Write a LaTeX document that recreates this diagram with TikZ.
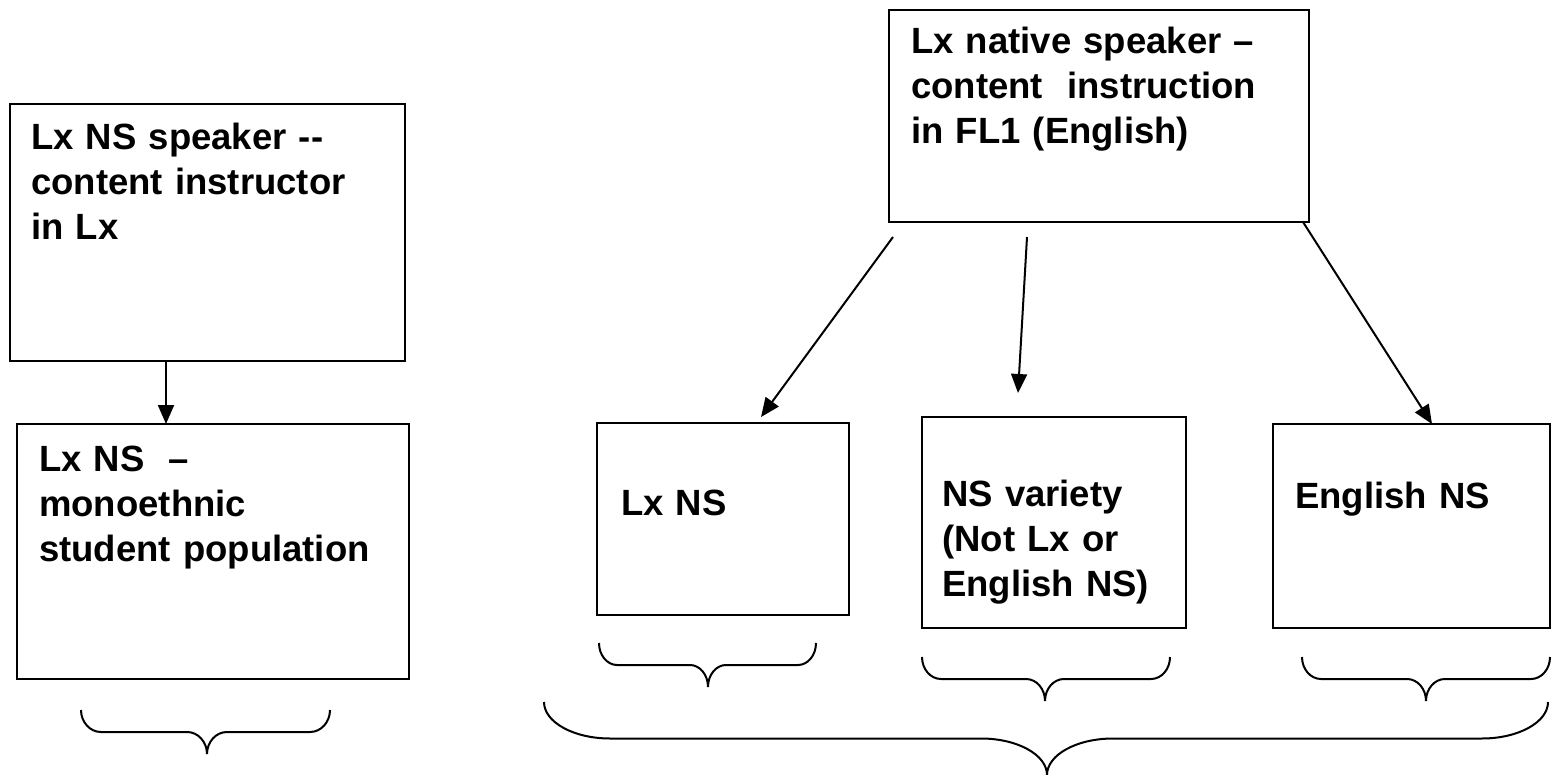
\documentclass[tikz,border=0pt]{standalone}
\usepackage{fontspec}
\setmainfont{Liberation Sans}
\usetikzlibrary{arrows.meta}
\tikzset{
  box/.style={draw, line width=2.2pt, inner sep=0pt, outer sep=0pt},
  lbl/.style={anchor=base west, inner sep=0pt, text width=430pt, align=left,
    font=\fontsize{36.5pt}{45pt}\selectfont\bfseries},
  arr/.style={line width=2pt, -{Triangle[length=19pt,width=16pt]}},
  brc/.style={line width=2pt},
}
% x1, x2, xc, top, half-height, curl radius
\newcommand\wordbrace[6]{%
  \draw[brc] (#1,#4) .. controls (#1,{#4+0.552*#5}) and ({#1+0.448*#6},{#4+#5}) .. ({#1+#6},{#4+#5})
    -- ({#3-#6},{#4+#5}) .. controls ({#3-0.448*#6},{#4+#5}) and (#3,{#4+1.448*#5}) .. (#3,{#4+2*#5})
    .. controls (#3,{#4+1.448*#5}) and ({#3+0.448*#6},{#4+#5}) .. ({#3+#6},{#4+#5})
    -- ({#2-#6},{#4+#5}) .. controls ({#2-0.448*#6},{#4+#5}) and (#2,{#4+0.552*#5}) .. (#2,#4);}
\begin{document}
\begin{tikzpicture}[x=1pt, y=-1pt]
\fill[white] (0,0) rectangle (1552,775);
\useasboundingbox (0,0) rectangle (1552,775);

% boxes
\node[box, minimum width=395pt, minimum height=257pt] (A) at (207.5,232.5) {};
\node[box, minimum width=392pt, minimum height=255pt] (B) at (213,551.5) {};
\node[box, minimum width=420pt, minimum height=212pt] (C) at (1099,116) {};
\node[box, minimum width=252pt, minimum height=192pt] (D) at (723,519) {};
\node[box, minimum width=264pt, minimum height=211pt] (E) at (1054,522.5) {};
\node[box, minimum width=277pt, minimum height=204pt] (F) at (1411.5,526) {};

% texts
\node[lbl] (tA) at (31,150) {Lx NS speaker -{}-\\content instructor\\in Lx};
\node[lbl] (tB) at (39,471) {Lx NS\ \ –\\monoethnic\\student population};
\node[lbl] (tC) at (911,54) {Lx native speaker –\\content\ \ instruction\\in FL1 (English)};
\node[lbl] (tD) at (621,515) {Lx NS};
\node[lbl] (tE) at (942,506) {NS variety\\(Not Lx or\\English NS)};
\node[lbl] (tF) at (1295,508) {English NS};

% arrows
\draw[arr] ([xshift=-41.5pt]A.south) -- ([xshift=-47pt]B.north);
\draw[arr] ([xshift=4pt,yshift=-15pt]C.south west) -- ([xshift=38pt,yshift=6pt]D.north);
\draw[arr] ([xshift=-72pt,yshift=-15pt]C.south) -- ([xshift=-36pt,yshift=24pt]E.north);
\draw[arr] ([xshift=-6pt]C.south east) -- ([xshift=20.5pt]F.north);

% braces
\wordbrace{81}{330}{207}{710}{22}{20}
\wordbrace{599}{816}{708}{643}{22}{18}
\wordbrace{922}{1170}{1045}{657}{22}{19}
\wordbrace{1302}{1550}{1426}{657}{22}{19}
\wordbrace{544}{1548}{1047}{702}{36.5}{66}
\end{tikzpicture}
\end{document}
